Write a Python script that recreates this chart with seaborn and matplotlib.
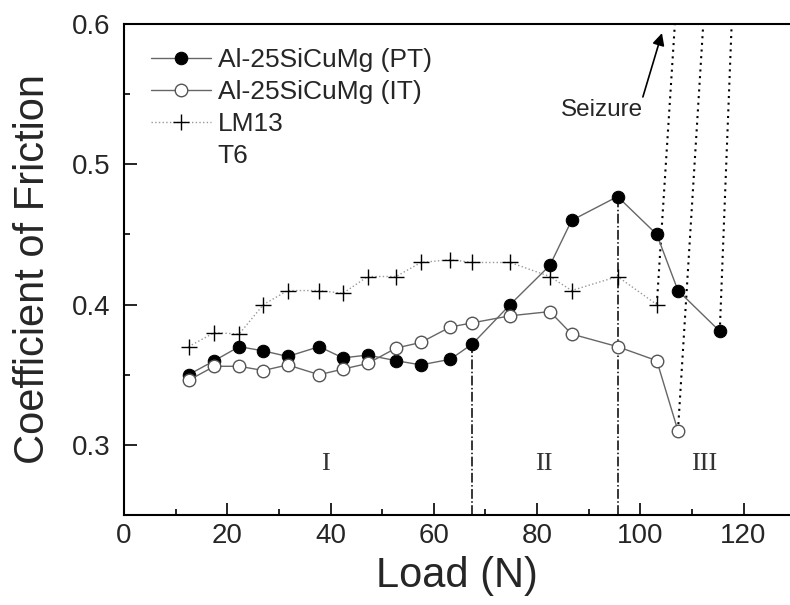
import numpy as np
import pandas as pd
import matplotlib
matplotlib.use('Agg')
import matplotlib.pyplot as plt
import seaborn as sns

# Load (N) and coefficient of friction
load_pt = [12.5, 17.5, 22.3, 27.0, 31.7, 37.8, 42.4, 47.2, 52.7, 57.5, 63.2,
           67.5, 74.8, 82.5, 86.7, 95.6, 103.2, 107.3, 115.4]
cof_pt = [0.350, 0.360, 0.370, 0.367, 0.363, 0.370, 0.362, 0.364, 0.360, 0.357, 0.361,
          0.372, 0.400, 0.428, 0.460, 0.477, 0.450, 0.410, 0.381]

load_it = [12.5, 17.5, 22.3, 27.0, 31.7, 37.8, 42.4, 47.2, 52.7, 57.5, 63.2,
           67.5, 74.8, 82.5, 86.7, 95.6, 103.2, 107.3]
cof_it = [0.346, 0.356, 0.356, 0.353, 0.357, 0.350, 0.354, 0.358, 0.369, 0.373, 0.384,
          0.387, 0.392, 0.395, 0.379, 0.370, 0.360, 0.310]

load_lm = [12.5, 17.5, 22.3, 27.0, 31.7, 37.8, 42.4, 47.2, 52.7, 57.5, 63.2,
           67.5, 74.8, 82.5, 86.7, 95.6, 103.2]
cof_lm = [0.370, 0.380, 0.379, 0.400, 0.410, 0.410, 0.408, 0.420, 0.420, 0.430, 0.432,
          0.430, 0.430, 0.420, 0.410, 0.420, 0.400]

# loads where each material seizes (friction goes off scale)
seizure_load = [106.7, 112.2, 117.7]   # LM13, IT, PT
seizure_cof = 0.6
# arrow pointing at the seizure jump
arrow_tail = (100.5, 0.548)
arrow_head = (104.2, 0.5935)

# regime boundaries and labels
boundaries = [67.5, 95.6]
boundary_top = [0.372, 0.477]
regime_names = ['I', 'II', 'III']
regime_x = [39.1, 81.4, 112.4]

sns.set_theme(style='white')
plt.rcParams['font.family'] = ['Liberation Sans', 'DejaVu Sans']

fig = plt.figure(figsize=(7.9, 6.05), dpi=100)
ax = fig.add_axes([124 / 790, 1 - 515 / 605, 666 / 790, 491 / 605])

sns.lineplot(x=load_pt, y=cof_pt, ax=ax, color='#666666', lw=1.0, marker='o', markersize=9,
             markerfacecolor='black', markeredgecolor='black', label='Al-25SiCuMg (PT)')
sns.lineplot(x=load_it, y=cof_it, ax=ax, color='#666666', lw=1.0, marker='o', markersize=9,
             markerfacecolor='white', markeredgecolor='#555555', markeredgewidth=1.0,
             label='Al-25SiCuMg (IT)')
sns.lineplot(x=load_lm, y=cof_lm, ax=ax, color='#999999', lw=1.0, linestyle=':', marker='+',
             markersize=11, markeredgecolor='black', markeredgewidth=1.0, label='LM13')
ax.plot([], [], ' ', label='T6')

# seizure jumps
ends = [(load_lm[-1], cof_lm[-1]), (load_it[-1], cof_it[-1]), (load_pt[-1], cof_pt[-1])]
for (x0, y0), xs in zip(ends, seizure_load):
    ax.plot([x0, xs], [y0, seizure_cof], color='black', lw=1.5, linestyle=(0, (1, 2.2)),
            zorder=1)

ax.vlines(boundaries, 0.25, boundary_top, colors='black', linestyles='-.', lw=1.1, zorder=1)
for name, x in zip(regime_names, regime_x):
    ax.text(x, 0.286, name, ha='center', va='center', fontsize=19, color='#333333',
            family=['Liberation Serif', 'DejaVu Serif'])

ax.text(92.5, 0.539, 'Seizure', ha='center', va='center', fontsize=17.5)
ax.annotate('', xy=arrow_head, xytext=arrow_tail,
            arrowprops=dict(arrowstyle='-|>', color='black', lw=1.2,
                            mutation_scale=18, shrinkA=0, shrinkB=0))

ax.set_xlim(0, 129)
ax.set_ylim(0.25, 0.6)
ax.set_xticks(np.arange(0, 121, 20))
ax.set_xticks(np.arange(10, 121, 20), minor=True)
ax.set_yticks([0.3, 0.4, 0.5, 0.6])
ax.set_yticks([0.25, 0.35, 0.45, 0.55], minor=True)
ax.tick_params(which='both', direction='in', color='black', width=1.2,
               bottom=True, left=True, top=False, right=False)
ax.tick_params(which='major', length=9, labelsize=20)
ax.tick_params(which='minor', length=4.5)
ax.tick_params(axis='x', pad=6)
ax.tick_params(axis='y', pad=10)
for side in ['left', 'bottom', 'top']:
    ax.spines[side].set_color('black')
    ax.spines[side].set_linewidth(1.5)
ax.spines['right'].set_visible(False)

ax.set_xlabel('Load (N)', fontsize=30, labelpad=5)
ax.set_ylabel('Coefficient of Friction', fontsize=30, labelpad=13)

ax.legend(loc='upper left', bbox_to_anchor=(0.02, 0.978), frameon=False, fontsize=19,
          handlelength=2.3, handletextpad=0.25, labelspacing=0.3, borderpad=0)

plt.savefig('out.png', dpi=100)
